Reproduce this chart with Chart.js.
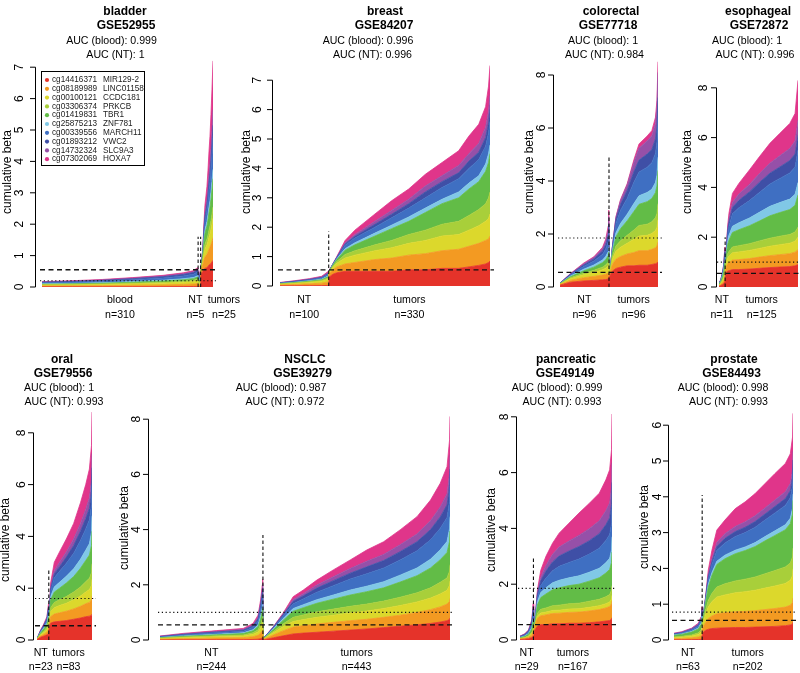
<!DOCTYPE html>
<html>
<head>
<meta charset="utf-8">
<script src="https://cdn.jsdelivr.net/npm/chart.js@4.4.0/dist/chart.umd.min.js"></script>
<style>
  html, body { margin: 0; padding: 0; background: #fff; }
  #wrap { position: relative; width: 800px; height: 673px; overflow: hidden; }
  #wrap canvas { position: absolute; left: 0; top: 0; }
</style>
</head>
<body>
<div id="wrap"></div>
<script>
// ---------------- legend / series ----------------
const probeIds = ['cg14416371','cg08189989','cg00100121','cg03306374','cg01419831','cg25875213','cg00339556','cg01893212','cg14732324','cg07302069'];
const geneNames = ['MIR129-2','LINC01158','CCDC181','PRKCB','TBR1','ZNF781','MARCH11','VWC2','SLC9A3','HOXA7'];
const seriesColors = ['#E5332A','#F39A22','#DCD82C','#A8CF3A','#62BC47','#80C8E6','#3F6FC2','#3F4FA6','#9650A8','#E0358A'];

// ---------------- bladder GSE52955 ----------------
const bladderGroups = ['blood','NT','tumors'];
const bladderN = [310,5,25];
const bladderTicks = [0,1,2,3,4,5,6,7];
const bladderRank = [0,60,120,180,240,280,300,309, 310,312,314, 315,317,319,321,323,325,327,329,331,333,335,337,339];
const bladderBeta = [
 [.005,.026,.026,.014,.017,.012,.034,.017,.008,.012],
 [.006,.03,.03,.016,.02,.014,.04,.02,.01,.014],
 [.007,.036,.036,.019,.024,.017,.048,.024,.012,.017],
 [.009,.045,.045,.024,.03,.021,.06,.03,.015,.021],
 [.011,.056,.056,.03,.037,.026,.074,.037,.018,.026],
 [.014,.068,.068,.036,.045,.032,.09,.045,.022,.031],
 [.016,.078,.078,.042,.052,.036,.104,.052,.026,.036],
 [.019,.093,.093,.05,.062,.043,.124,.062,.031,.043],
 [.008,.038,.038,.02,.025,.017,.05,.025,.012,.017],
 [.01,.053,.053,.028,.035,.025,.07,.035,.017,.024],
 [.017,.083,.083,.044,.055,.038,.11,.055,.027,.038],
 [.35,.1,.05,.03,.03,.01,.02,.005,.003,.002],
 [.45,.15,.08,.05,.06,.02,.04,.02,.01,.02],
 [.5,.22,.13,.08,.12,.04,.1,.04,.03,.04],
 [.55,.3,.2,.12,.25,.08,.2,.08,.08,.14],
 [.6,.35,.25,.15,.35,.1,.3,.12,.12,.26],
 [.6,.4,.28,.17,.38,.12,.33,.14,.14,.34],
 [.62,.42,.3,.18,.42,.14,.38,.16,.16,.42],
 [.65,.46,.34,.2,.48,.16,.45,.19,.2,.57],
 [.7,.5,.38,.23,.55,.18,.55,.23,.25,.73],
 [.72,.55,.42,.25,.6,.2,.62,.26,.3,.88],
 [.75,.6,.48,.28,.68,.23,.72,.3,.36,1.1],
 [.8,.65,.55,.32,.78,.26,.85,.35,.42,1.32],
 [.85,.72,.62,.36,.9,.3,1.0,.4,.5,1.55]
];

// ---------------- breast GSE84207 ----------------
const breastGroups = ['NT','tumors'];
const breastN = [100,330];
const breastTicks = [0,1,2,3,4,5,6,7];
const breastRank = [0,30,60,85,99, 100,108,116,133,153,194,228,263,297,331,365,386,406,420,426,429];
const breastBeta = [
 [.005,.03,.024,.01,.01,.006,.014,.007,.006,.008],
 [.007,.045,.036,.014,.014,.009,.022,.011,.009,.013],
 [.01,.063,.05,.02,.02,.012,.03,.015,.012,.018],
 [.013,.083,.066,.026,.026,.017,.04,.02,.016,.023],
 [.02,.12,.1,.04,.04,.025,.06,.03,.025,.04],
 [.3,.1,.05,.02,.02,0,.01,0,0,0],
 [.4,.15,.08,.04,.04,.01,.02,.005,.005,0],
 [.45,.2,.12,.06,.07,.02,.04,.01,.01,.02],
 [.5,.25,.2,.12,.15,.05,.12,.04,.04,.08],
 [.5,.3,.25,.15,.2,.07,.16,.06,.06,.15],
 [.5,.4,.3,.2,.3,.1,.2,.1,.1,.25],
 [.5,.45,.35,.25,.4,.12,.25,.12,.13,.33],
 [.55,.5,.4,.3,.45,.15,.3,.15,.15,.35],
 [.55,.55,.45,.35,.6,.15,.35,.2,.2,.4],
 [.6,.6,.5,.4,.7,.15,.4,.2,.2,.45],
 [.6,.65,.5,.45,.8,.2,.45,.2,.25,.5],
 [.65,.7,.55,.5,.9,.2,.5,.25,.25,.6],
 [.7,.75,.6,.55,.95,.2,.55,.25,.3,.65],
 [.75,.8,.65,.6,1.1,.25,.6,.3,.35,.7],
 [.8,.8,.7,.7,1.2,.3,.7,.35,.4,.85],
 [.85,.85,.75,.75,1.3,.3,.8,.4,.5,1.0]
];

// ---------------- colorectal GSE77718 ----------------
const colorectalGroups = ['NT','tumors'];
const colorectalN = [96,96];
const colorectalTicks = [0,2,4,6,8];
const colorectalRank = [0,20,46,66,83,89,94,95, 96,98,102,109,118,131,144,154,170,179,186,189,191];
const colorectalBeta = [
 [.07,.02,.015,.01,.01,.005,.01,.005,.003,.002],
 [.18,.07,.06,.035,.04,.025,.04,.025,.015,.01],
 [.23,.12,.11,.06,.09,.06,.1,.06,.04,.03],
 [.25,.15,.15,.08,.12,.08,.15,.08,.05,.03],
 [.27,.18,.2,.1,.17,.1,.22,.12,.08,.06],
 [.28,.2,.23,.12,.2,.12,.28,.16,.12,.09],
 [.3,.22,.27,.14,.25,.15,.38,.24,.19,.16],
 [.3,.25,.3,.16,.3,.2,.5,.35,.29,.25],
 [.4,.05,.03,.01,.01,0,0,0,0,0],
 [.45,.1,.06,.03,.03,.01,.01,.01,0,0],
 [.6,.25,.2,.1,.15,.05,.1,.03,.02,0],
 [.7,.35,.3,.2,.35,.15,.35,.15,.08,.02],
 [.75,.4,.35,.25,.45,.2,.5,.22,.14,.04],
 [.8,.45,.4,.3,.55,.25,.6,.3,.2,.05],
 [.8,.5,.5,.35,.7,.3,.8,.4,.35,.1],
 [.82,.55,.55,.4,.8,.32,.9,.45,.45,.16],
 [.82,.55,.58,.42,.85,.35,.95,.5,.5,.18],
 [.85,.57,.6,.44,.88,.35,1.0,.5,.52,.19],
 [.88,.6,.65,.48,.95,.38,1.1,.55,.58,.23],
 [.9,.65,.7,.52,1.05,.4,1.25,.6,.7,.28],
 [.95,.75,.85,.6,1.25,.5,1.5,.75,.95,.4]
];

// ---------------- esophageal GSE72872 ----------------
const esophagealGroups = ['NT','tumors'];
const esophagealN = [11,125];
const esophagealTicks = [0,2,4,6,8];
const esophagealRank = [0,3,6,8,10, 11,13,15,17,23,34,52,69,87,104,121,130,135];
const esophagealBeta = [
 [.03,.02,.02,.015,.025,.01,.01,.01,.005,.005],
 [.06,.04,.04,.03,.05,.02,.025,.015,.01,.01],
 [.1,.07,.07,.06,.11,.05,.06,.03,.03,.02],
 [.14,.1,.1,.09,.17,.08,.1,.05,.04,.03],
 [.2,.15,.15,.15,.3,.15,.2,.1,.1,.1],
 [.5,.15,.08,.05,.06,.02,.03,.01,0,0],
 [.6,.25,.17,.12,.25,.1,.15,.06,.04,.06],
 [.65,.3,.22,.17,.38,.15,.28,.12,.09,.14],
 [.65,.33,.25,.2,.45,.2,.35,.17,.13,.23],
 [.7,.38,.3,.23,.58,.25,.5,.25,.2,.37],
 [.7,.4,.31,.25,.64,.28,.6,.3,.25,.43],
 [.72,.42,.33,.27,.72,.31,.7,.35,.3,.58],
 [.75,.45,.35,.3,.8,.35,.8,.4,.35,.68],
 [.78,.48,.38,.32,.9,.38,.9,.43,.4,.8],
 [.8,.5,.4,.34,.95,.4,.97,.46,.45,.9],
 [.82,.52,.42,.35,1.0,.42,1.05,.5,.48,1.01],
 [.85,.55,.44,.37,1.07,.44,1.1,.52,.52,1.11],
 [.9,.6,.5,.4,1.3,.5,1.3,.6,.6,1.6]
];

// ---------------- oral GSE79556 ----------------
const oralGroups = ['NT','tumors'];
const oralN = [23,83];
const oralTicks = [0,2,4,6,8];
const oralRank = [0,6,13,19,22, 23,26,33,43,56,70,83,93,100,104,105];
const oralBeta = [
 [.02,.005,.005,.004,.005,.002,.003,.002,.002,.002],
 [.1,.04,.04,.03,.04,.02,.03,.02,.015,.015],
 [.15,.07,.07,.055,.08,.04,.065,.035,.025,.03],
 [.2,.1,.1,.08,.12,.06,.1,.05,.04,.05],
 [.25,.15,.15,.12,.2,.1,.18,.09,.07,.09],
 [.45,.12,.08,.05,.05,.01,.01,.005,.005,0],
 [.65,.25,.2,.15,.3,.12,.2,.08,.08,.17],
 [.7,.3,.25,.2,.4,.2,.35,.15,.13,.32],
 [.72,.33,.28,.22,.45,.23,.42,.18,.17,.4],
 [.75,.36,.31,.26,.52,.26,.5,.24,.2,.5],
 [.8,.4,.35,.3,.6,.3,.6,.3,.25,.6],
 [.85,.45,.4,.35,.72,.35,.72,.36,.3,.8],
 [.9,.5,.45,.4,.82,.4,.82,.4,.35,.96],
 [.92,.53,.5,.43,.9,.44,.92,.45,.4,1.11],
 [.95,.6,.55,.5,1.05,.5,1.05,.5,.45,1.35],
 [1.0,.7,.65,.6,1.25,.6,1.25,.6,.55,1.6]
];

// ---------------- NSCLC GSE39279 ----------------
const nsclcGroups = ['NT','tumors'];
const nsclcN = [244,443];
const nsclcTicks = [0,2,4,6,8];
const nsclcRank = [0,55,134,197,220,232,238,242,243, 244,248,268,291,315,339,371,410,450,489,529,568,608,640,663,679,685,686];
const nsclcBeta = [
 [.004,.026,.021,.013,.017,.009,.021,.013,.009,.012],
 [.007,.042,.035,.021,.028,.014,.035,.021,.014,.023],
 [.01,.06,.05,.03,.04,.02,.05,.03,.02,.03],
 [.012,.074,.062,.037,.049,.025,.062,.037,.025,.037],
 [.02,.1,.085,.055,.075,.035,.09,.05,.035,.055],
 [.03,.14,.12,.08,.12,.06,.14,.08,.05,.08],
 [.05,.2,.18,.13,.2,.1,.24,.14,.09,.12],
 [.07,.26,.24,.18,.28,.14,.34,.2,.13,.16],
 [.08,.28,.26,.2,.31,.15,.37,.22,.15,.18],
 [.01,.02,.015,.01,.01,.005,.005,.003,.001,.001],
 [.015,.03,.02,.015,.015,.007,.008,.005,.003,.002],
 [.08,.1,.08,.05,.06,.03,.04,.02,.01,.01],
 [.15,.18,.15,.1,.13,.06,.09,.05,.03,.03],
 [.22,.25,.2,.15,.22,.1,.17,.09,.07,.1],
 [.25,.27,.22,.17,.26,.11,.21,.11,.08,.13],
 [.28,.3,.24,.2,.31,.13,.27,.15,.11,.18],
 [.32,.32,.26,.22,.36,.15,.34,.18,.14,.25],
 [.36,.34,.28,.24,.41,.18,.4,.21,.17,.31],
 [.4,.35,.3,.25,.45,.2,.45,.25,.2,.41],
 [.45,.37,.32,.27,.48,.22,.5,.27,.22,.46],
 [.5,.4,.35,.3,.55,.25,.55,.3,.25,.54],
 [.55,.45,.38,.33,.62,.28,.62,.33,.28,.63],
 [.6,.5,.42,.37,.72,.32,.7,.37,.32,.75],
 [.65,.55,.47,.42,.82,.36,.78,.41,.36,.86],
 [.7,.6,.5,.45,.92,.4,.87,.46,.4,.98],
 [.75,.65,.58,.52,1.08,.46,1.0,.53,.47,1.21],
 [.8,.7,.65,.58,1.22,.52,1.12,.6,.52,1.39]
];

// ---------------- pancreatic GSE49149 ----------------
const pancreaticGroups = ['NT','tumors'];
const pancreaticN = [29,167];
const pancreaticTicks = [0,2,4,6,8];
const pancreaticRank = [0,10,18,25,28, 29,31,37,44,55,69,83,104,125,147,168,182,190,194,195];
const pancreaticBeta = [
 [.02,.02,.01,.01,.02,.01,.02,.015,.01,.005],
 [.03,.03,.015,.015,.035,.015,.035,.02,.015,.01],
 [.05,.05,.025,.025,.055,.025,.055,.035,.025,.015],
 [.09,.09,.04,.05,.12,.05,.12,.07,.05,.04],
 [.14,.14,.06,.09,.22,.1,.22,.14,.1,.09],
 [.2,.05,.02,.01,.01,.005,.005,0,0,0],
 [.35,.12,.04,.03,.03,.01,.01,.005,.005,0],
 [.5,.28,.08,.1,.3,.12,.15,.1,.07,.1],
 [.55,.32,.1,.13,.42,.18,.25,.17,.13,.25],
 [.55,.35,.1,.15,.5,.22,.35,.25,.2,.33],
 [.58,.37,.11,.17,.57,.25,.43,.32,.27,.4],
 [.58,.38,.11,.18,.62,.27,.5,.37,.32,.5],
 [.6,.39,.12,.19,.65,.28,.55,.41,.36,.64],
 [.6,.4,.12,.2,.68,.3,.6,.45,.4,.8],
 [.62,.42,.13,.22,.72,.32,.65,.48,.43,.91],
 [.65,.44,.14,.23,.77,.34,.72,.52,.46,.99],
 [.68,.47,.15,.25,.85,.37,.8,.56,.5,1.11],
 [.7,.5,.16,.27,.9,.4,.85,.6,.53,1.19],
 [.75,.55,.18,.3,1.0,.45,.95,.67,.6,1.37],
 [.8,.6,.2,.35,1.2,.55,1.15,.8,.7,1.75]
];

// ---------------- prostate GSE84493 ----------------
const prostateGroups = ['NT','tumors'];
const prostateN = [63,202];
const prostateTicks = [0,1,2,3,4,5,6];
const prostateRank = [0,17,39,54,60,62, 63,65,70,76,84,95,113,136,158,180,202,224,247,258,263,264];
const prostateBeta = [
 [.005,.03,.03,.02,.045,.01,.02,.01,.01,.01],
 [.006,.036,.036,.024,.055,.012,.025,.012,.012,.013],
 [.01,.05,.05,.03,.08,.02,.04,.02,.02,.01],
 [.015,.07,.07,.045,.11,.025,.055,.03,.025,.025],
 [.02,.1,.1,.06,.15,.035,.075,.04,.035,.035],
 [.03,.14,.14,.09,.21,.05,.11,.06,.05,.05],
 [.18,.12,.08,.04,.03,.01,.005,.003,.002,0],
 [.22,.16,.13,.07,.07,.02,.02,.005,.005,0],
 [.27,.22,.22,.12,.2,.04,.06,.03,.02,.02],
 [.3,.3,.32,.18,.38,.07,.15,.06,.05,.14],
 [.32,.35,.4,.23,.5,.08,.22,.08,.08,.24],
 [.33,.4,.47,.28,.63,.09,.3,.11,.11,.35],
 [.34,.42,.5,.31,.7,.1,.34,.13,.13,.38],
 [.35,.44,.53,.33,.76,.1,.38,.14,.14,.5],
 [.35,.45,.55,.35,.8,.1,.4,.15,.15,.56],
 [.36,.46,.57,.37,.85,.11,.43,.16,.16,.62],
 [.37,.48,.6,.4,.92,.12,.46,.17,.17,.68],
 [.38,.5,.63,.43,.98,.13,.5,.18,.18,.74],
 [.4,.52,.66,.46,1.04,.14,.54,.19,.19,.79],
 [.42,.55,.7,.48,1.1,.15,.57,.2,.2,.83],
 [.45,.6,.75,.52,1.2,.16,.62,.22,.22,.93],
 [.5,.67,.82,.58,1.33,.18,.7,.25,.25,1.05]
];

// ---------------- panel texts and reference levels ----------------
const panels = [
 { name:'bladder', gse:'GSE52955', auc:['AUC (blood): 0.999','AUC (NT): 1'], groups:bladderGroups, n:bladderN, ticks:bladderTicks, rank:bladderRank, beta:bladderBeta, dashed:0.55, dotted:0.2, vTop:1.6, vAll:true, legend:true },
 { name:'breast', gse:'GSE84207', auc:['AUC (blood): 0.996','AUC (NT): 0.996'], groups:breastGroups, n:breastN, ticks:breastTicks, rank:breastRank, beta:breastBeta, dashed:0.55, dotted:null, vTop:1.85 },
 { name:'colorectal', gse:'GSE77718', auc:['AUC (blood): 1','AUC (NT): 0.984'], groups:colorectalGroups, n:colorectalN, ticks:colorectalTicks, rank:colorectalRank, beta:colorectalBeta, dashed:0.55, dotted:1.85, vTop:4.9 },
 { name:'esophageal', gse:'GSE72872', auc:['AUC (blood): 1','AUC (NT): 0.996'], groups:esophagealGroups, n:esophagealN, ticks:esophagealTicks, rank:esophagealRank, beta:esophagealBeta, dashed:0.55, dotted:1.0, vTop:2.0 },
 { name:'oral', gse:'GSE79556', auc:['AUC (blood): 1','AUC (NT): 0.993'], groups:oralGroups, n:oralN, ticks:oralTicks, rank:oralRank, beta:oralBeta, dashed:0.55, dotted:1.6, vTop:2.7 },
 { name:'NSCLC', gse:'GSE39279', auc:['AUC (blood): 0.987','AUC (NT): 0.972'], groups:nsclcGroups, n:nsclcN, ticks:nsclcTicks, rank:nsclcRank, beta:nsclcBeta, dashed:0.55, dotted:1.0, vTop:3.8 },
 { name:'pancreatic', gse:'GSE49149', auc:['AUC (blood): 0.999','AUC (NT): 0.993'], groups:pancreaticGroups, n:pancreaticN, ticks:pancreaticTicks, rank:pancreaticRank, beta:pancreaticBeta, dashed:0.55, dotted:1.85, vTop:3.0 },
 { name:'prostate', gse:'GSE84493', auc:['AUC (blood): 0.998','AUC (NT): 0.993'], groups:prostateGroups, n:prostateN, ticks:prostateTicks, rank:prostateRank, beta:prostateBeta, dashed:0.55, dotted:0.78, vTop:4.05 }
];

// ---------------- layout (pixels) ----------------
const layouts = [
 { dataL:42,  dataR:213, y0:287, ppu:31.4, ymax:7.6, axisX:35,  tickX:20,  yTitleX:8,   yTitleY:172, tx:[125,126,111.5,115.5], ty:[11.5,26,41,55],   gy:[300,315.5], gOff:[0,-4,17] },
 { dataL:280, dataR:490, y0:286, ppu:29.4, ymax:7.6, axisX:272, tickX:258, yTitleX:247, yTitleY:172, tx:[385,384,368,372.5],   ty:[11.5,26,41,55],   gy:[300,315.5], gOff:[0,0] },
 { dataL:560, dataR:658, y0:287, ppu:26.5, ymax:8.6, axisX:553, tickX:542, yTitleX:530, yTitleY:172, tx:[611,608,603,604.5],   ty:[11.5,26,41,55],   gy:[300,315.5], gOff:[0,0] },
 { dataL:719, dataR:798, y0:287, ppu:24.9, ymax:8.5, axisX:716, tickX:704, yTitleX:688, yTitleY:172, tx:[758,759,747,755],     ty:[11.5,26,41,55],   gy:[300,315.5], gOff:[0,0] },
 { dataL:37,  dataR:92,  y0:640, ppu:25.9, ymax:8.9, axisX:33,  tickX:22,  yTitleX:6,   yTitleY:540, tx:[62,63,59,64],         ty:[360,373.5,388,402], gy:[653,667.5], gOff:[-2,-2] },
 { dataL:160, dataR:450, y0:640, ppu:27.6, ymax:8.2, axisX:148, tickX:137, yTitleX:125, yTitleY:528, tx:[305,302.5,281,285],   ty:[360,373.5,388,402], gy:[653,667.5], gOff:[0,0] },
 { dataL:520, dataR:612, y0:640, ppu:27.9, ymax:8.2, axisX:516, tickX:505, yTitleX:492, yTitleY:530, tx:[566,565,557,562],     ty:[360,373.5,388,402], gy:[653,667.5], gOff:[0,0] },
 { dataL:674, dataR:793, y0:640, ppu:35.8, ymax:6.4, axisX:668, tickX:658, yTitleX:645, yTitleY:527, tx:[734,731.5,723,728.5], ty:[360,373.5,388,402], gy:[653,667.5], gOff:[0,0] }
];

const FONT = '"Liberation Sans", Arial, Helvetica, sans-serif';
const W = 800, H = 673;

function decorPlugin(p, L) {
  return {
    id: 'decor',
    afterDatasetsDraw(chart) {
      const ctx = chart.ctx, xs = chart.scales.x, ys = chart.scales.y;
      ctx.save();
      ctx.strokeStyle = '#111';
      const xL = xs.left - 2, xR = xs.right + 4;
      if (p.dotted != null) {
        const y = ys.getPixelForValue(p.dotted);
        ctx.lineWidth = 1.1; ctx.setLineDash([1.2, 2.6]);
        ctx.beginPath(); ctx.moveTo(xL, y); ctx.lineTo(xR, y); ctx.stroke();
      }
      {
        const y = ys.getPixelForValue(p.dashed);
        ctx.lineWidth = 1.3; ctx.setLineDash([5, 3.5]);
        ctx.beginPath(); ctx.moveTo(xL, y); ctx.lineTo(xR, y); ctx.stroke();
      }
      // vertical boundaries between groups
      let start = 0;
      const bounds = [];
      p.n.forEach((c, i) => { start += c; if (i < p.n.length - 1) bounds.push(start - 0.5); });
      const useB = p.vAll ? bounds : [bounds[bounds.length - 1]];
      ctx.lineWidth = 1.1; ctx.setLineDash([3.5, 2.5]);
      useB.forEach(b => {
        const x = xs.getPixelForValue(b);
        ctx.beginPath(); ctx.moveTo(x, ys.getPixelForValue(0)); ctx.lineTo(x, ys.getPixelForValue(p.vTop)); ctx.stroke();
      });
      ctx.restore();
    },
    afterDraw(chart) {
      const ctx = chart.ctx, xs = chart.scales.x, ys = chart.scales.y;
      ctx.save();
      ctx.fillStyle = '#000'; ctx.strokeStyle = '#000';
      // y axis
      const t0 = ys.getPixelForValue(p.ticks[0]);
      const t1 = ys.getPixelForValue(p.ticks[p.ticks.length - 1]);
      ctx.lineWidth = 1; ctx.setLineDash([]);
      ctx.beginPath(); ctx.moveTo(L.axisX + 0.5, t0); ctx.lineTo(L.axisX + 0.5, t1); ctx.stroke();
      ctx.font = '12px ' + FONT;
      ctx.textAlign = 'center'; ctx.textBaseline = 'middle';
      p.ticks.forEach(v => {
        const y = ys.getPixelForValue(v);
        ctx.beginPath(); ctx.moveTo(L.axisX + 0.5, y); ctx.lineTo(L.axisX - 5, y); ctx.stroke();
        ctx.save(); ctx.translate(L.tickX, y); ctx.rotate(-Math.PI / 2); ctx.fillText(String(v), 0, 0); ctx.restore();
      });
      ctx.save(); ctx.translate(L.yTitleX, L.yTitleY); ctx.rotate(-Math.PI / 2);
      ctx.fillText('cumulative beta', 0, 0); ctx.restore();
      // titles
      ctx.font = 'bold 12px ' + FONT;
      ctx.fillText(p.name, L.tx[0], L.ty[0]);
      ctx.fillText(p.gse, L.tx[1], L.ty[1]);
      ctx.font = '10.6px ' + FONT;
      ctx.fillText(p.auc[0], L.tx[2], L.ty[2]);
      ctx.fillText(p.auc[1], L.tx[3], L.ty[3]);
      // group labels
      let s = 0;
      p.groups.forEach((g, i) => {
        const c = s + (p.n[i] - 1) / 2;
        const x = xs.getPixelForValue(c) + (L.gOff[i] || 0);
        ctx.fillText(g, x, L.gy[0]);
        ctx.fillText('n=' + p.n[i], x, L.gy[1]);
        s += p.n[i];
      });
      // legend
      if (p.legend) {
        ctx.lineWidth = 1;
        ctx.strokeRect(41.5, 71.5, 103, 94);
        ctx.font = '8.2px ' + FONT;
        ctx.textAlign = 'left';
        probeIds.forEach((id, k) => {
          const y = 80 + k * 8.8;
          ctx.fillStyle = seriesColors[k];
          ctx.beginPath(); ctx.arc(47, y, 2.1, 0, Math.PI * 2); ctx.fill();
          ctx.fillStyle = '#222';
          ctx.fillText(id, 52, y);
          ctx.fillText(geneNames[k], 103, y);
        });
      }
      ctx.restore();
    }
  };
}

const wrap = document.getElementById('wrap');
panels.forEach((p, idx) => {
  const L = layouts[idx];
  const canvas = document.createElement('canvas');
  canvas.width = W; canvas.height = H;
  canvas.style.width = W + 'px'; canvas.style.height = H + 'px';
  wrap.appendChild(canvas);
  const total = p.n.reduce((a, b) => a + b, 0);
  const datasets = geneNames.map((g, k) => ({
    label: probeIds[k] + ' ' + g,
    data: p.rank.map((r, i) => ({ x: r, y: p.beta[i][k] })),
    backgroundColor: seriesColors[k],
    borderColor: seriesColors[k],
    borderWidth: 0.8,
    pointRadius: 0,
    tension: 0,
    fill: k === 0 ? 'origin' : '-1'
  }));
  new Chart(canvas, {
    type: 'line',
    data: { datasets },
    options: {
      responsive: false,
      animation: false,
      devicePixelRatio: 1,
      events: [],
      layout: { padding: { left: L.dataL, right: W - L.dataR, top: L.y0 - L.ymax * L.ppu, bottom: H - L.y0 } },
      scales: {
        x: { type: 'linear', min: 0, max: total - 1, display: false },
        y: { min: 0, max: L.ymax, stacked: true, display: false }
      },
      plugins: { legend: { display: false }, tooltip: { enabled: false }, title: { display: false } }
    },
    plugins: [decorPlugin(p, L)]
  });
});
</script>
</body>
</html>
